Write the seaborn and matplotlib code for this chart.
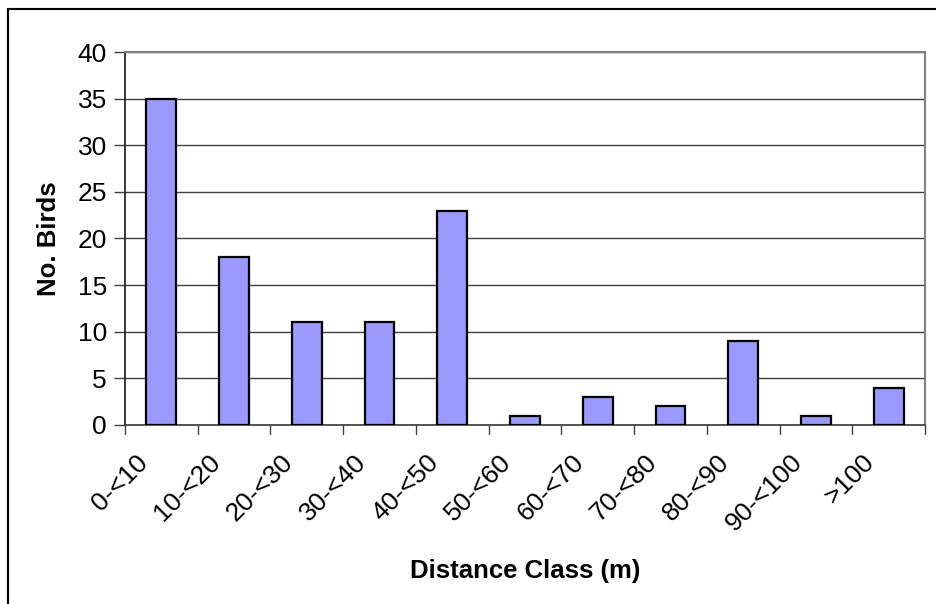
import numpy as np
import pandas as pd
import matplotlib
matplotlib.use("Agg")
import matplotlib.pyplot as plt
import matplotlib.transforms as mtransforms
import seaborn as sns
from matplotlib.patches import Rectangle

sns.set_theme(style="white")
plt.rcParams['font.family'] = ['Liberation Sans', 'DejaVu Sans']
plt.rcParams['text.color'] = 'black'
plt.rcParams['axes.labelcolor'] = 'black'
plt.rcParams['xtick.color'] = 'black'
plt.rcParams['ytick.color'] = 'black'

classes = ["0-<10", "10-<20", "20-<30", "30-<40", "40-<50", "50-<60",
           "60-<70", "70-<80", "80-<90", "90-<100", ">100"]
birds = [35, 18, 11, 11, 23, 1, 3, 2, 9, 1, 4]

df = pd.DataFrame({"cls": classes, "n": birds})

W, H = 937, 604
fig = plt.figure(figsize=(W / 100, H / 100), dpi=100)
fig.patch.set_facecolor("white")

# outer chart frame (left and top edges visible)
fig.patches.append(Rectangle((8 / W, -0.5), 2, 0.5 + 1 - 9 / H,
                             transform=fig.transFigure, fill=False,
                             edgecolor="black", linewidth=1.5))

ax = fig.add_axes([125 / W, 1 - 425 / H, 800 / W, (425 - 52) / H])
sns.barplot(data=df, x="cls", y="n", color="#9999FF", width=0.41,
            edgecolor="black", linewidth=1.6, saturation=1, ax=ax, zorder=3)

ax.set_ylim(0, 40)
ax.set_xlim(-0.5, len(classes) - 0.5)
ax.set_yticks(np.arange(0, 41, 5))
ax.yaxis.grid(True, color="#404040", linewidth=1)
ax.set_axisbelow(True)

ax.spines["top"].set_color("#808080")
ax.spines["right"].set_color("#808080")
ax.spines["top"].set_linewidth(1.5)
ax.spines["right"].set_linewidth(1.5)
ax.spines["left"].set_color("#202020")
ax.spines["bottom"].set_color("#404040")

ax.tick_params(axis="y", direction="out", length=8, width=1, color="#404040",
               labelsize=19, pad=5, left=True)
ax.set_xticks(np.arange(len(classes)))
ax.set_xticklabels(classes, rotation=45, ha="right", va="top",
                   rotation_mode="anchor", fontsize=19)
ax.tick_params(axis="x", bottom=False, labelsize=19, pad=12)
shift = mtransforms.ScaledTranslation(-26 / 100, 0, fig.dpi_scale_trans)
for lab in ax.get_xticklabels():
    lab.set_transform(lab.get_transform() + shift)
for b in np.arange(-0.5, len(classes), 1.0):
    ax.plot([b, b], [0, -0.025], transform=ax.get_xaxis_transform(),
            color="#404040", linewidth=1, clip_on=False)

ax.set_xlabel("Distance Class (m)", fontsize=18.5, fontweight="bold", labelpad=17)
ax.set_ylabel("No. Birds", fontsize=18.5, fontweight="bold", labelpad=12)

fig.savefig("out.png", dpi=100)
